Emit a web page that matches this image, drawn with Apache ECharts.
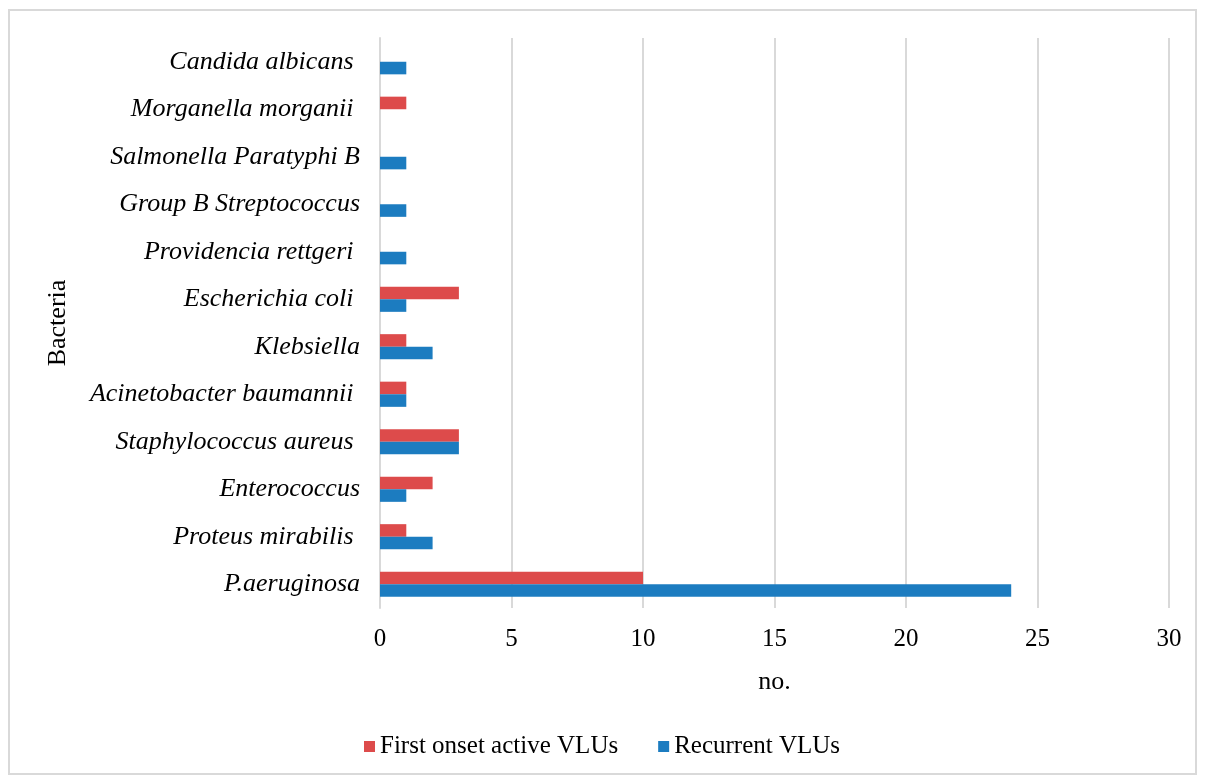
<!DOCTYPE html>
<html>
<head>
<meta charset="utf-8">
<script src="https://cdn.jsdelivr.net/npm/echarts@6/dist/echarts.min.js"></script>
<style>
html,body{margin:0;padding:0;background:#fff;}
#chart{width:1205px;height:783px;}
</style>
</head>
<body>
<div id="chart"></div>
<script>
var categories = ['P.aeruginosa', 'Proteus mirabilis ', 'Enterococcus', 'Staphylococcus aureus ', 'Acinetobacter baumannii ', 'Klebsiella', 'Escherichia coli ', 'Providencia rettgeri ', 'Group B Streptococcus', 'Salmonella Paratyphi B', 'Morganella morganii ', 'Candida albicans '];
var firstOnset = [10, 1, 2, 3, 1, 1, 3, 0, 0, 0, 1, 0];
var recurrent = [24, 2, 1, 3, 1, 2, 1, 1, 1, 1, 0, 1];
var xTicks = [0, 5, 10, 15, 20, 25, 30];

var FONT = '"Liberation Serif", "Times New Roman", serif';
var chart = echarts.init(document.getElementById('chart'), null, {renderer: 'canvas'});
chart.setOption({
  animation: false,
  backgroundColor: '#fff',
  textStyle: {fontFamily: FONT},
  graphic: [{
    type: 'rect',
    shape: {x: 9, y: 10, width: 1187, height: 764},
    style: {fill: 'none', stroke: '#d9d9d9', lineWidth: 2},
    silent: true
  }],
  legend: {
    bottom: 19,
    left: 359,
    itemWidth: 11,
    itemHeight: 11,
    itemGap: 40,
    icon: 'rect',
    textStyle: {fontFamily: FONT, fontSize: 25, color: '#000'},
    data: ['First onset active VLUs', 'Recurrent VLUs']
  },
  grid: {left: 380, right: 36, top: 38, bottom: 175, containLabel: false},
  xAxis: {
    type: 'value',
    min: xTicks[0],
    max: xTicks[xTicks.length - 1],
    interval: 5,
    name: 'no.',
    nameLocation: 'middle',
    nameGap: 61,
    nameTextStyle: {fontFamily: FONT, fontSize: 26, color: '#000'},
    axisLine: {show: false},
    axisTick: {show: false},
    axisLabel: {fontFamily: FONT, fontSize: 25, color: '#000', margin: 19},
    splitLine: {show: true, lineStyle: {color: '#d9d9d9', width: 2}}
  },
  yAxis: {
    type: 'category',
    data: categories,
    name: 'Bacteria',
    nameLocation: 'middle',
    nameGap: 309,
    nameRotate: 90,
    nameTextStyle: {fontFamily: FONT, fontSize: 26, color: '#000'},
    axisLine: {show: true, lineStyle: {color: '#d9d9d9', width: 2}},
    axisTick: {show: false},
    axisLabel: {fontFamily: FONT, fontSize: 26, fontStyle: 'italic', color: '#000', margin: 20},
    splitLine: {show: false}
  },
  series: [
    {
      name: 'First onset active VLUs',
      type: 'bar',
      data: firstOnset,
      barGap: '0%',
      barCategoryGap: '47%',
      itemStyle: {color: '#dd4b4b'}
    },
    {
      name: 'Recurrent VLUs',
      type: 'bar',
      data: recurrent,
      barGap: '0%',
      barCategoryGap: '47%',
      itemStyle: {color: '#1c7cc0'}
    }
  ]
});
</script>
</body>
</html>
